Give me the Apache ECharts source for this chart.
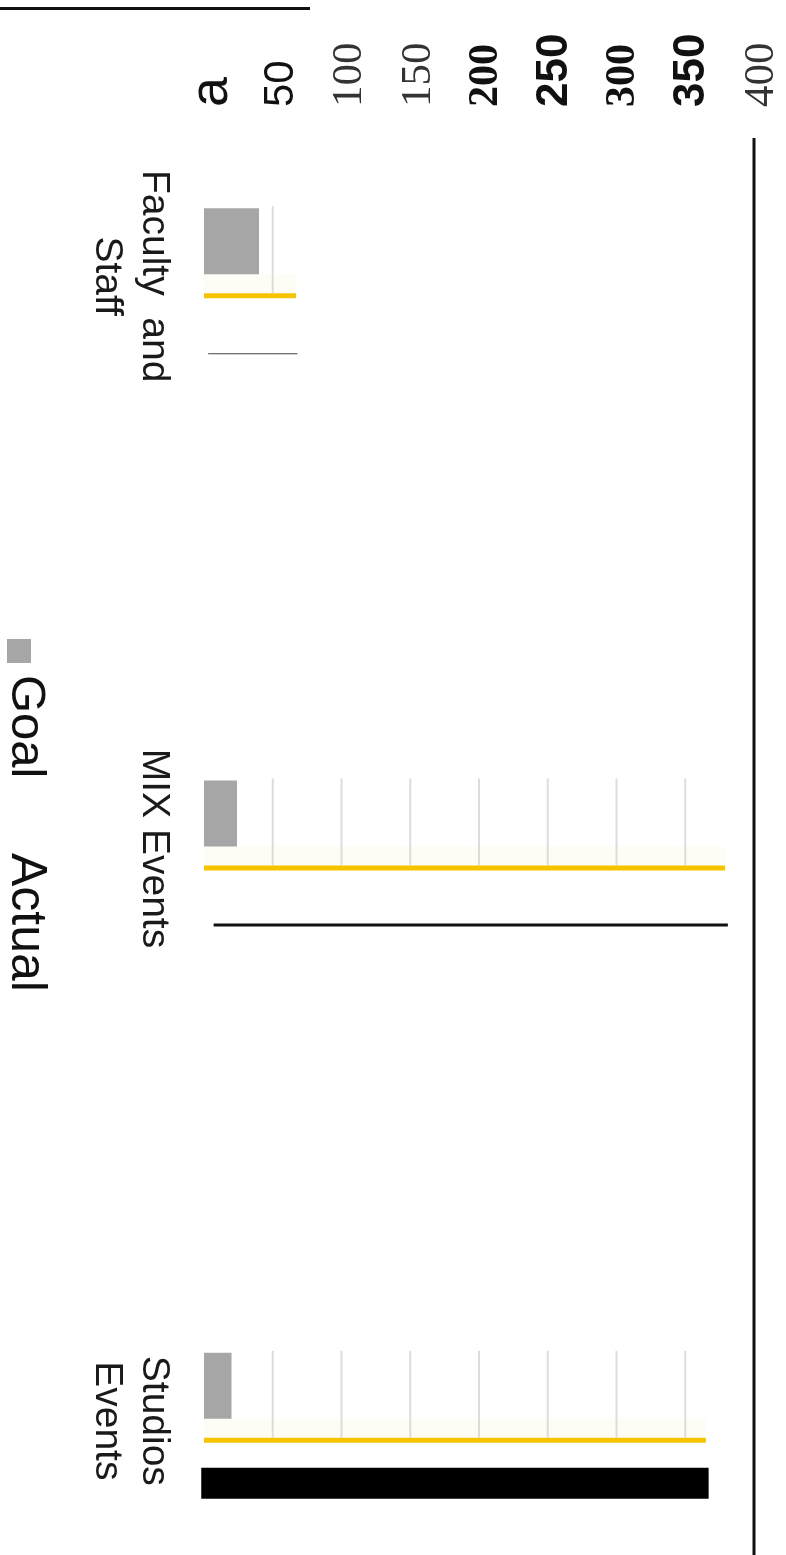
<!DOCTYPE html>
<html>
<head>
<meta charset="utf-8">
<script src="https://cdn.jsdelivr.net/npm/echarts/dist/echarts.min.js"></script>
<style>
    html, body { margin: 0; padding: 0; background: #fff; }
    #chart { width: 786px; height: 1555px; }
</style>
</head>
<body>
<div id="chart"></div>
<script>
const categories = ['Faculty  and\nStaff', 'MIX Events', 'Studios\nEvents'];
const goalValues = [40, 24, 20];
const actualValues = [67, 379, 365];
// black rule under each group: start / end value
const ruleFrom = [3, 7, -2];
const ruleTo = [68, 381, 367];
const valueTicks = [0, 50, 100, 150, 200, 250, 300, 350, 400];

// styles
const RULE_THICK = [1, 3, 31];
const RULE_COLOR = ['#444', '#111', '#000'];
const LABEL_STYLE = {0: 'a', 50: 'sans', 100: 'thin', 150: 'thin', 200: 'serifB',
    250: 'sansB', 300: 'serifB', 350: 'sansB', 400: 'thin'};

let chart = echarts.init(document.getElementById('chart'));

/** actual: faint strip, split lines up to the value, yellow bar */
function renderActual(params, api) {
    let v = api.value(0);
    let idx = api.value(1);
    let o = api.coord([0, idx]);
    let e = api.coord([v, idx]);
    let kids = [];
    kids.push({
        type: 'rect',
        shape: {x: o[0], y: o[1] + 33, width: e[0] - o[0], height: 19},
        style: {fill: '#fdfdf6'}
    });
    for (let i = 1; i < valueTicks.length; i++) {
        if (valueTicks[i] >= v) break;
        let p = api.coord([valueTicks[i], idx]);
        kids.push({
            type: 'line',
            shape: {x1: p[0], y1: o[1] - 35, x2: p[0], y2: o[1] + 52},
            style: {stroke: '#dcdcdc', lineWidth: 2}
        });
    }
    kids.push({
        type: 'rect',
        shape: {x: o[0], y: o[1] + 52, width: e[0] - o[0], height: 5},
        style: {fill: '#f6c300'}
    });
    return {type: 'group', children: kids};
}

function renderRule(params, api) {
    let idx = api.value(2);
    let a = api.coord([api.value(0), idx]);
    let b = api.coord([api.value(1), idx]);
    let h = RULE_THICK[params.dataIndex];
    return {
        type: 'rect',
        shape: {x: a[0], y: a[1] + 113 - h, width: b[0] - a[0], height: h},
        style: {fill: RULE_COLOR[params.dataIndex]}
    };
}

let option = {
    animation: false,
    backgroundColor: '#fff',
    grid: {left: 204, right: 32, top: -45, bottom: -117, containLabel: false, outerBoundsMode: 'none'},
    xAxis: {
        type: 'value',
        position: 'top',
        offset: -158,
        min: 0,
        max: 400,
        interval: 50,
        axisLine: {show: false},
        axisTick: {show: false},
        splitLine: {show: false},
        axisLabel: {
            rotate: -90,
            margin: 6,
            formatter: function (v) {
                let s = LABEL_STYLE[v] || 'sans';
                return '{' + s + '|' + (v === 0 ? 'a' : v) + '}';
            },
            rich: {
                a: {fontFamily: 'Liberation Sans', fontSize: 54, color: '#111', padding: [16, 0, 0, 0]},
                sans: {fontFamily: 'Liberation Sans', fontSize: 42, color: '#111', padding: [18, 0, 0, 0]},
                sansB: {fontFamily: ['Liberation Sans Narrow', 'Liberation Sans'], fontSize: 44,
                    fontWeight: 'bold', color: '#111', padding: [14, 0, 0, 0]},
                thin: {fontFamily: 'Liberation Serif', fontSize: 43, color: '#333', padding: [16, 0, 0, 0]},
                serifB: {fontFamily: 'Liberation Serif', fontSize: 42, fontWeight: 'bold', color: '#111',
                    padding: [14, 0, 0, 0]}
            }
        }
    },
    yAxis: {
        type: 'category',
        inverse: true,
        data: categories,
        axisLine: {show: false},
        axisTick: {show: false},
        splitLine: {show: false},
        axisLabel: {
            rotate: -90,
            margin: 27,
            fontFamily: 'Liberation Sans',
            fontSize: 39,
            lineHeight: 47,
            color: '#1a1a1a',
            padding: [0, 0, 0, 70]
        }
    },
    series: [
        {
            name: 'Actual',
            type: 'custom',
            renderItem: renderActual,
            encode: {x: 0, y: 1},
            data: actualValues.map((v, i) => [v, i]),
            z: 1
        },
        {
            name: 'Goal',
            type: 'bar',
            data: goalValues,
            barWidth: 66,
            itemStyle: {color: '#a6a6a6'},
            z: 2
        },
        {
            name: 'Rule',
            type: 'custom',
            renderItem: renderRule,
            encode: {x: [0, 1], y: 2},
            data: ruleFrom.map((v, i) => [v, ruleTo[i], i]),
            z: 3
        }
    ]
};
chart.setOption(option);

// rotated legend and frame rules
let xMax = chart.convertToPixel({xAxisIndex: 0}, 400);
chart.setOption({
    graphic: [
        {type: 'line', shape: {x1: 0, y1: 8.5, x2: 310, y2: 8.5}, style: {stroke: '#111', lineWidth: 3}},
        {type: 'line', shape: {x1: xMax, y1: 138, x2: xMax, y2: 1555}, style: {stroke: '#111', lineWidth: 3}},
        {type: 'rect', shape: {x: 7, y: 639, width: 24, height: 24}, style: {fill: '#a6a6a6'}},
        {
            type: 'text', x: 26, y: 675, rotation: -Math.PI / 2,
            style: {text: 'Goal', fontFamily: 'Liberation Sans', fontSize: 49, fill: '#111',
                align: 'left', verticalAlign: 'middle'}
        },
        {
            type: 'text', x: 26, y: 853, rotation: -Math.PI / 2,
            style: {text: 'Actual', fontFamily: 'Liberation Sans', fontSize: 50, fill: '#111',
                align: 'left', verticalAlign: 'middle'}
        }
    ]
});
</script>
</body>
</html>
